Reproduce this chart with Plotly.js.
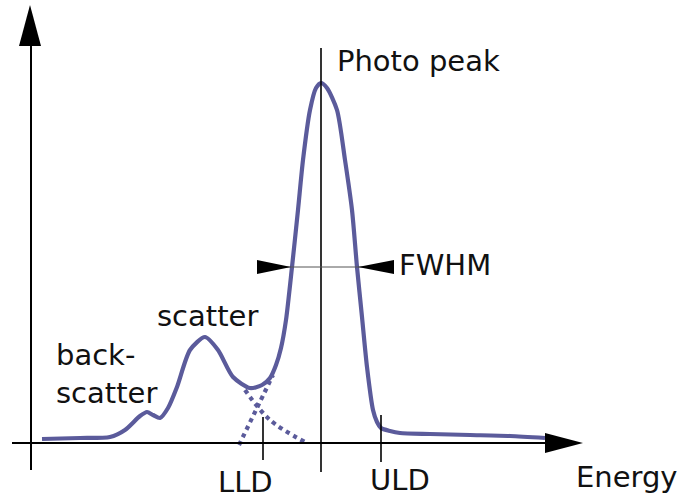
<!DOCTYPE html>
<html><head><meta charset="utf-8">
<script src="https://cdn.plot.ly/plotly-3.0.1.min.js"></script>
<style>html,body{margin:0;padding:0;background:#fff}#plot{width:681px;height:495px}</style>
</head><body><div id="plot"></div>
<script>
// Spectrum (energy channel, counts)
const energy = [42, 80, 110, 125, 140, 147, 153, 160, 168, 177, 190, 205, 218, 233, 250, 262, 270, 276, 281, 286, 292, 298, 303, 310, 316, 321, 327, 337, 345, 352, 357, 362, 367, 373, 377, 381, 390, 400, 430, 470, 510, 545];
const counts = [4, 5, 6, 13, 27, 31, 28, 25, 35, 56, 93, 106, 93, 66, 55, 58, 65, 78, 95, 123, 176, 233, 283, 333, 355, 360, 355, 333, 283, 233, 176, 126, 76, 33, 21, 15, 12, 10, 9, 8, 7, 5];
// Underlying components (dotted)
const photoTailE = [239, 256, 273];
const photoTailC = [-2, 33, 68];
const scatterTailE = [245, 270, 305];
const scatterTailC = [53, 23, 1];
// Markers
const lld = 263, uld = 381, peakE = 321, halfMax = 176;
const labels = {peak: "Photo peak", fwhm: "FWHM", scatter: "scatter", back: "back-<br>scatter", lld: "LLD", uld: "ULD", energyAx: "Energy"};

const col = '#5b5b9b';
const font = {family: 'DejaVu Sans', size: 29, color: '#111'};
const traces = [
  {x: energy, y: counts, mode: 'lines', line: {color: col, width: 4.2, shape: 'spline', smoothing: 0.7}, hoverinfo: 'skip'},
  {x: photoTailE, y: photoTailC, mode: 'lines', line: {color: col, width: 4.2, dash: 'dot', shape: 'spline'}},
  {x: scatterTailE, y: scatterTailC, mode: 'lines', line: {color: col, width: 4.2, dash: 'dot', shape: 'spline'}}
];
const blk = {color: '#000', width: 1.6};
const shapes = [
  // energy axis
  {type: 'line', x0: 12, x1: 548, y0: 0, y1: 0, line: {color: '#000', width: 2}},
  {type: 'path', path: 'M545,10 L583,0 L545,-10 Z', fillcolor: '#000', line: {width: 0}},
  // counts axis
  {type: 'line', x0: 31, x1: 31, y0: -27, y1: 400, line: {color: '#000', width: 2}},
  {type: 'path', path: 'M19,397 L30,438 L41,397 Z', fillcolor: '#000', line: {width: 0}},
  // peak line
  {type: 'line', x0: peakE, x1: peakE, y0: -29, y1: 395, line: blk},
  // LLD, ULD
  {type: 'line', x0: lld, x1: lld, y0: -17, y1: 26, line: blk},
  {type: 'line', x0: uld, x1: uld, y0: -19, y1: 28, line: blk},
  // FWHM
  {type: 'line', x0: 258, x1: 393, y0: halfMax, y1: halfMax, line: {color: '#555', width: 1}},
  {type: 'path', path: 'M257,183 L291,176 L257,169 Z', fillcolor: '#000', line: {width: 0}},
  {type: 'path', path: 'M394,183 L358,176 L394,169 Z', fillcolor: '#000', line: {width: 0}}
];
const ann = (t, x, y, xa) => ({text: t, x: x, y: y, xref: 'x', yref: 'y', showarrow: false, xanchor: xa || 'left', yanchor: 'middle', font: font, align: 'left'});
const annotations = [
  ann(labels.peak, 335, 382),
  ann(labels.fwhm, 397, 178),
  ann(labels.scatter, 155, 127),
  ann(labels.back, 54, 69),
  ann(labels.lld, 216, -39),
  ann(labels.uld, 368, -37),
  ann(labels.energyAx, 574, -34)
];
const layout = {
  width: 681, height: 495, margin: {l: 0, r: 0, t: 0, b: 0},
  paper_bgcolor: '#fff', plot_bgcolor: '#fff', showlegend: false,
  xaxis: {range: [0, 681], visible: false, fixedrange: true},
  yaxis: {range: [-52, 443], visible: false, fixedrange: true},
  shapes: shapes, annotations: annotations
};
Plotly.newPlot('plot', traces, layout, {staticPlot: true});
</script></body></html>
